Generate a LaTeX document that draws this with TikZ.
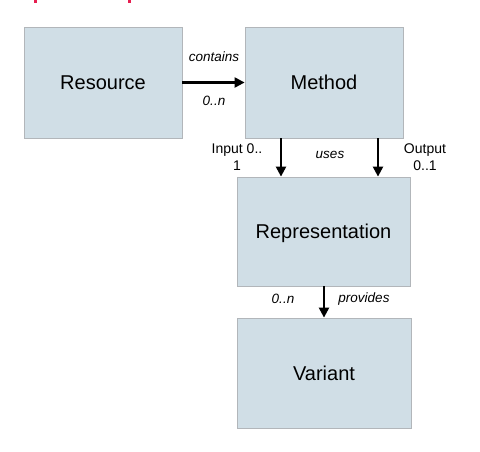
\documentclass[tikz,border=0pt]{standalone}
\usepackage{fontspec}
\setmainfont{Liberation Sans}
\usetikzlibrary{arrows.meta}
\definecolor{boxfill}{RGB}{208,222,230}
\definecolor{boxline}{RGB}{178,182,186}
\definecolor{headred}{RGB}{230,30,80}
\begin{document}
\begin{tikzpicture}[x=1pt,y=-1pt,
  box/.style={draw=boxline,fill=boxfill,line width=0.8pt,font=\fontsize{20}{24}\selectfont,text depth=0pt,text height=14pt},
  lbl/.style={font=\fontsize{13.5}{16}\selectfont\itshape,inner sep=0pt},
  plain/.style={font=\fontsize{14}{17}\selectfont,inner sep=0pt,align=center},
  conn/.style={line width=2.2pt,-{Triangle[length=10pt,width=10pt]}}]
\path[use as bounding box] (0,0) rectangle (480,451);
\fill[headred] (33.5,0) rectangle (36.5,2.5);
\fill[headred] (127.5,0) rectangle (130.5,2.5);
\node[box,minimum width=158pt,minimum height=111pt] (res) at (103,82.5) {Resource};
\node[box,minimum width=158pt,minimum height=111pt] (meth) at (324,82.5) {Method};
\node[box,minimum width=173pt,minimum height=109pt] (rep) at (323.5,231.5) {Representation};
\node[box,minimum width=174pt,minimum height=110pt] (var) at (324,373) {Variant};
\draw[conn] (res.east) -- (meth.west);
\node[lbl] (lcont) at (214,57) {contains};
\node[lbl] (lzn1) at (214,101) {0..n};
\draw[conn] (meth.south -| 281,0) -- (rep.north -| 281,0);
\draw[conn] (meth.south -| 378,0) -- (rep.north -| 378,0);
\node[plain] (lin) at (237,157.5) {Input 0..\\1};
\node[lbl] (luses) at (330,155) {uses};
\node[plain] (lout) at (425,157.5) {Output\\0..1};
\draw[conn] (rep.south -| 324,0) -- (var.north -| 324,0);
\node[lbl] (lzn2) at (283,299) {0..n};
\node[lbl] (lprov) at (364,299) {provides};
\end{tikzpicture}
\end{document}
